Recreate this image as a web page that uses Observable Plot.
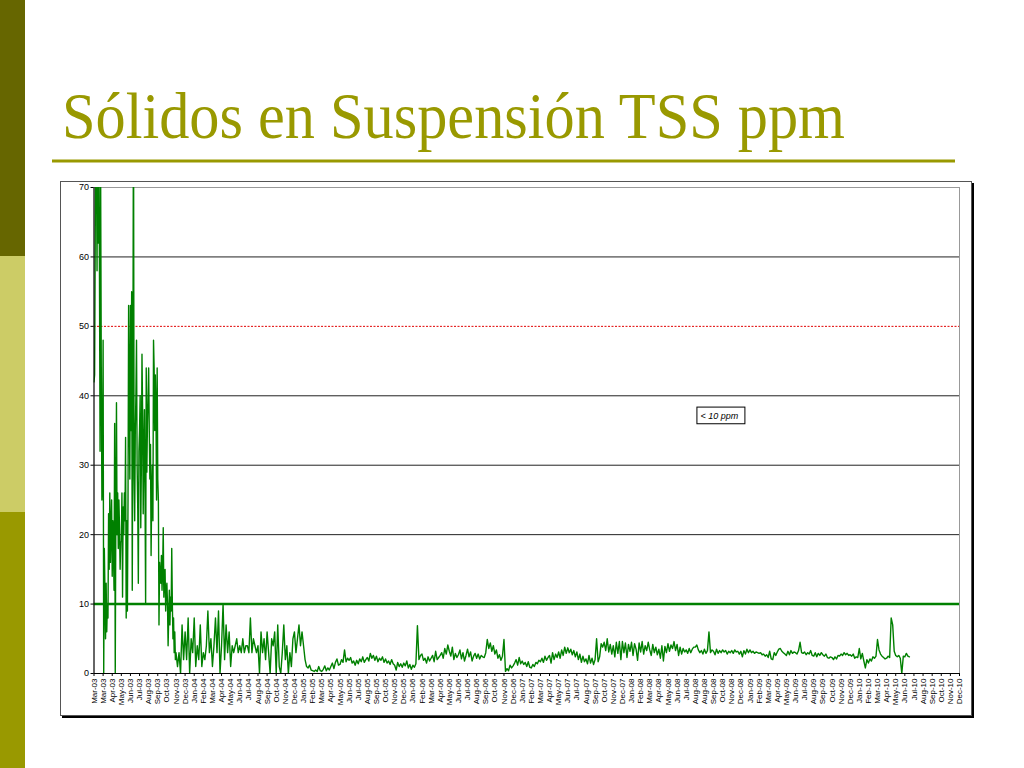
<!DOCTYPE html>
<html>
<head>
<meta charset="utf-8">
<script src="https://cdn.jsdelivr.net/npm/d3@7"></script>
<script src="https://cdn.jsdelivr.net/npm/@observablehq/plot@0.6"></script>
<style>
  html, body { margin: 0; padding: 0; background: #fff; }
  #slide { position: relative; width: 1024px; height: 768px; overflow: hidden; background: #fff; }
  .stripe { position: absolute; left: 0; width: 25px; }
  #frame { position: absolute; left: 60px; top: 181px; width: 910px; height: 533px;
           border: 1px solid #555; box-shadow: 2px 2px 0 #000; background: #fff; }
  #chart { position: absolute; left: 0; top: 0; }
</style>
</head>
<body>
<div id="slide">
  <div class="stripe" style="top:0;height:256px;background:#666600"></div>
  <div class="stripe" style="top:256px;height:256px;background:#cccc66"></div>
  <div class="stripe" style="top:512px;height:256px;background:#999900"></div>
  <svg id="titleSvg" width="1024" height="180" style="position:absolute;left:0;top:0">
    <text x="62" y="138" font-family="'Liberation Serif','Times New Roman',serif" font-size="65"
          fill="#999900" textLength="783" lengthAdjust="spacingAndGlyphs">Sólidos en Suspensión TSS ppm</text>
    <line x1="52" x2="955" y1="161" y2="161" stroke="#999900" stroke-width="3"></line>
  </svg>
  <div id="frame"><div id="chart"></div></div>
</div>
<script>
// ---- Data ----
const axisStart = "2003-03-01";          // first axis tick
const axisEnd = "2010-12-19";            // last axis tick
const tickStepDays = 30;                 // Excel date axis major unit

// Early readings (ppm), every 2 days from 2003-03-01, one row per 30-day axis interval
const earlyStart = "2003-03-01";
const earlyStepDays = 2;
const tssEarly = [
  42, 43, 62, 85, 75, 58, 90, 62, 80, 58, 32, 70, 44, 25, 29,
  48, 0, 18, 12, 5, 13, 6, 10, 8, 23, 15, 26, 16, 21, 25,
  14, 22, 18, 12, 36, 0, 24, 39, 20, 26, 18, 25, 21, 15, 19,
  19, 26, 11, 24, 20, 26, 22, 34, 8, 22, 9, 25, 53, 40, 28,
  53, 35, 55, 12, 40, 85, 28, 22, 35, 40, 48, 30, 24, 13, 32,
  35, 40, 21, 30, 46, 38, 23, 32, 38, 26, 10, 44, 29, 36, 40,
  44, 35, 28, 33, 17, 26, 30, 22, 48, 44, 35, 43, 38, 25, 44,
  28, 25, 7, 16, 14, 13, 17, 12, 15, 21, 11, 14, 15, 9, 12,
  13, 10, 4, 8, 12, 7, 11, 9, 18, 10, 5, 8, 3, 6, 2
];

// Later readings (ppm), every 5 days from 2003-11-26, one row per 30-day axis interval
const lateStart = "2003-11-26";
const lateStepDays = 5;
const tssLate = [
  3, 1, 3, 0, 7, 2,
  6, 2, 8, 0, 5, 3,
  8, 1, 4, 2, 7, 1,
  3, 2, 4, 9, 3, 5,
  1, 4, 8, 3, 9, 0,
  4, 10, 2, 7, 3, 6,
  1, 4, 3, 4, 5, 3,
  4, 3, 5, 3, 4, 4,
  3, 8, 3, 5, 4, 3,
  4, 0, 6, 3, 5, 2,
  6, 3, 0, 5, 4, 6,
  0, 7, 1, 0, 3, 7,
  2, 4, 0, 3, 1, 5,
  6, 3, 5, 7, 4, 6,
  4, 2, 1, 0.8, 1.2, 0.5,
  0.4, 0.3, 0.5, 0.3, 1, 0.4,
  0.3, 0.6, 1.1, 0.4, 0.8, 0.5,
  1, 1.5, 0.7, 1.6, 2.1, 1.2,
  1.3, 2, 1.6, 3.4, 1.7, 2.2,
  1.9, 2.3, 1.5, 1.8, 1.2, 1.9,
  1.4, 2.1, 1.7, 2.4, 1.6, 2.0,
  2.3, 1.8, 2.9, 2.2, 2.6, 1.9,
  2.5, 1.7, 2.2, 1.9, 2.4, 1.6,
  2.1, 1.5, 1.8, 1.3, 2.0, 1.4,
  1.2, 0.5, 1.6, 1.0, 1.4, 0.9,
  1.5, 1.1, 1.8, 0.8, 1.3, 0.6,
  1.2, 0.9, 1.4, 6.9, 2.0, 2.6,
  2.8, 1.9, 2.2, 1.5, 2.4, 1.8,
  2.2, 2.6, 1.7, 3.2, 2.0, 2.3,
  2.6, 3.0, 2.2, 3.6, 2.8, 4.1,
  3.2, 2.5, 3.8, 2.0, 2.9, 2.3,
  2.7, 3.4, 2.1, 3.0, 1.8, 2.6,
  3.5, 2.4, 3.1, 1.8, 2.5, 2.9,
  2.2, 2.8, 2.1, 2.6, 2.4, 2.3,
  3.0, 4.9, 3.6, 4.4, 3.2, 4.0,
  2.8, 3.4, 2.2, 2.7, 1.9, 2.5,
  4.9, 0.3, 0.7, 0.4, 1.2, 0.8,
  1.1, 1.5, 2.0, 1.2, 2.3, 1.4,
  1.8, 1.3, 1.6, 1.0, 1.7, 0.9,
  0.8, 1.3, 1.0, 1.6, 1.4, 1.9,
  1.7, 2.2, 1.6, 2.5, 1.9, 2.3,
  2.6, 1.5, 3.0, 2.0, 2.8, 2.3,
  3.1, 2.2, 3.4, 2.6, 3.8, 2.9,
  3.7, 3.0, 3.5, 2.7, 3.3, 2.4,
  3.1, 2.0, 2.8, 1.6, 2.5, 1.7,
  2.1, 1.4, 2.6, 1.5, 2.2, 1.3,
  2.0, 5.0, 1.7, 2.4, 4.3, 3.8,
  4.5, 3.3, 5.0, 3.1, 4.2, 2.8,
  4.0, 2.4, 4.5, 2.9, 4.6, 2.0,
  4.6, 3.0, 4.4, 2.3, 4.2, 3.2,
  4.5, 2.6, 4.3, 3.5, 1.9, 4.4,
  3.1, 4.6, 2.8, 4.0, 3.3, 4.5,
  3.4, 2.6, 4.2, 3.0, 3.8, 2.7,
  3.5, 2.2, 4.0, 1.8, 3.9, 3.0,
  4.3, 3.2, 4.1, 3.6, 4.6, 3.3,
  4.2, 2.6, 3.8, 2.8, 3.6, 3.1,
  3.4, 2.9, 3.6, 3.0, 3.5, 3.8,
  3.8, 4.1, 3.4, 3.0, 3.3, 2.8,
  3.5, 2.9, 3.3, 6.0, 3.0, 3.4,
  3.2, 2.7, 3.5, 2.9, 3.3, 3.0,
  3.4, 3.1, 3.3, 2.8, 3.2, 3.0,
  3.3, 2.9, 3.4, 3.1, 3.2, 2.8,
  3.2, 2.4, 3.3, 2.8, 3.5, 3.0,
  3.4, 3.0, 3.2, 2.9, 3.1, 3.0,
  2.9, 3.0, 2.7, 2.8, 2.5, 2.7,
  2.3, 3.2, 2.1, 2.0, 3.0, 2.6,
  3.1, 3.5, 3.6, 3.2, 3.0, 2.8,
  2.6, 3.2, 2.7, 3.3, 2.9, 3.1,
  3.0, 2.8, 3.3, 4.5, 3.0, 2.9,
  3.1, 2.7, 3.0, 2.8, 3.3, 2.6,
  2.5, 3.0, 2.4, 2.9, 2.6, 3.0,
  2.7, 2.5, 2.8, 2.3, 2.2, 2.4,
  2.3, 2.0, 2.4, 2.1, 2.6, 2.5,
  2.8, 2.6, 3.0, 2.7, 2.9, 2.6,
  2.7, 2.5, 2.8, 2.2, 2.4, 2.3,
  3.6, 2.1, 2.9, 1.8, 0.8, 2.0,
  1.5, 2.1, 1.8, 2.4, 2.2, 2.5,
  4.9, 3.4, 2.8, 2.5, 2.3, 2.1,
  2.2, 2.5, 2.3, 8.0, 7.0, 3.2,
  2.6, 2.4, 2.6, 2.2, 0, 2.5,
  2.4, 2.9, 2.5, 2.4
];

const tickLabels = [
  "Mar-03","Mar-03","Apr-03","May-03","Jun-03","Jul-03","Aug-03","Sep-03","Oct-03","Nov-03","Dec-03",
  "Jan-04","Feb-04","Mar-04","Apr-04","May-04","Jun-04","Jul-04","Aug-04","Sep-04","Oct-04","Nov-04","Dec-04",
  "Jan-05","Feb-05","Mar-05","Apr-05","May-05","Jun-05","Jul-05","Aug-05","Sep-05","Oct-05","Nov-05","Dec-05",
  "Jan-06","Feb-06","Mar-06","Apr-06","May-06","Jun-06","Jul-06","Aug-06","Sep-06","Oct-06","Nov-06","Dec-06",
  "Jan-07","Feb-07","Mar-07","Apr-07","May-07","Jun-07","Jul-07","Aug-07","Sep-07","Oct-07","Nov-07","Dec-07",
  "Jan-08","Feb-08","Mar-08","Apr-08","May-08","Jun-08","Jul-08","Aug-08","Aug-08","Sep-08","Oct-08","Nov-08","Dec-08",
  "Jan-09","Feb-09","Mar-09","Apr-09","May-09","Jun-09","Jul-09","Aug-09","Sep-09","Oct-09","Nov-09","Dec-09",
  "Jan-10","Feb-10","Mar-10","Apr-10","May-10","Jun-10","Jul-10","Aug-10","Sep-10","Oct-10","Nov-10","Dec-10"
];

const yTicks = [0, 10, 20, 30, 40, 50, 60, 70];
const gridValues = [20, 30, 40, 60];
const redLimit = [50];
const greenLimit = [10];
const note = [{x1: "2008-08-08", x2: "2009-01-13", y1: 35.9, y2: 38.3, label: "< 10 ppm"}];

// ---- Build ----
const parse = d3.utcParse("%Y-%m-%d");
const x0 = parse(axisStart), x1 = parse(axisEnd);
const e0 = parse(earlyStart), l0 = parse(lateStart);
const series = [
  ...tssEarly.map((v, i) => ({date: d3.utcDay.offset(e0, i * earlyStepDays), value: v})),
  ...tssLate.map((v, i) => ({date: d3.utcDay.offset(l0, i * lateStepDays), value: v}))
];
const tickDates = tickLabels.map((_, i) => d3.utcDay.offset(x0, i * tickStepDays));
const labelByTime = new Map(tickDates.map((d, i) => [+d, tickLabels[i]]));
const noteData = note.map(n => ({...n, x1: parse(n.x1), x2: parse(n.x2), ym: (n.y1 + n.y2) / 2}));

const chart = Plot.plot({
  width: 910,
  height: 533,
  marginLeft: 32.5,
  marginRight: 12,
  marginTop: 5,
  marginBottom: 42,
  style: {fontFamily: "'Liberation Sans', Arial, sans-serif", fontSize: "8px", background: "transparent", color: "#000"},
  x: {type: "utc", domain: [x0, x1], label: null},
  y: {domain: [0, 70], label: null},
  marks: [
    Plot.frame({stroke: "#999"}),
    Plot.ruleY(gridValues, {stroke: "#222", strokeWidth: 1}),
    Plot.ruleY(redLimit, {stroke: "#e00000", strokeWidth: 1, strokeDasharray: "2,1.5"}),
    Plot.ruleY(greenLimit, {stroke: "#008000", strokeWidth: 2.5}),
    Plot.line(series, {x: "date", y: "value", stroke: "#008000", strokeWidth: 1.4, clip: true}),
    Plot.ruleX([x0], {stroke: "#000", strokeWidth: 1}),
    Plot.ruleY([0], {stroke: "#000", strokeWidth: 1}),
    Plot.axisY(yTicks, {tickSize: 3, tickPadding: 2, fontSize: 9, label: null}),
    Plot.axisX(tickDates, {tickFormat: d => labelByTime.get(+d), tickRotate: -90, tickSize: 3, tickPadding: 2, fontSize: 8, label: null}),
    Plot.rect(noteData, {x1: "x1", x2: "x2", y1: "y1", y2: "y2", fill: "#fff", stroke: "#000", strokeWidth: 1}),
    Plot.text(noteData, {x: "x1", y: "ym", text: "label", textAnchor: "start", dx: 3, fontSize: 9, fontStyle: "italic", fill: "#000"})
  ]
});
document.getElementById("chart").appendChild(chart);
</script>
</body>
</html>
